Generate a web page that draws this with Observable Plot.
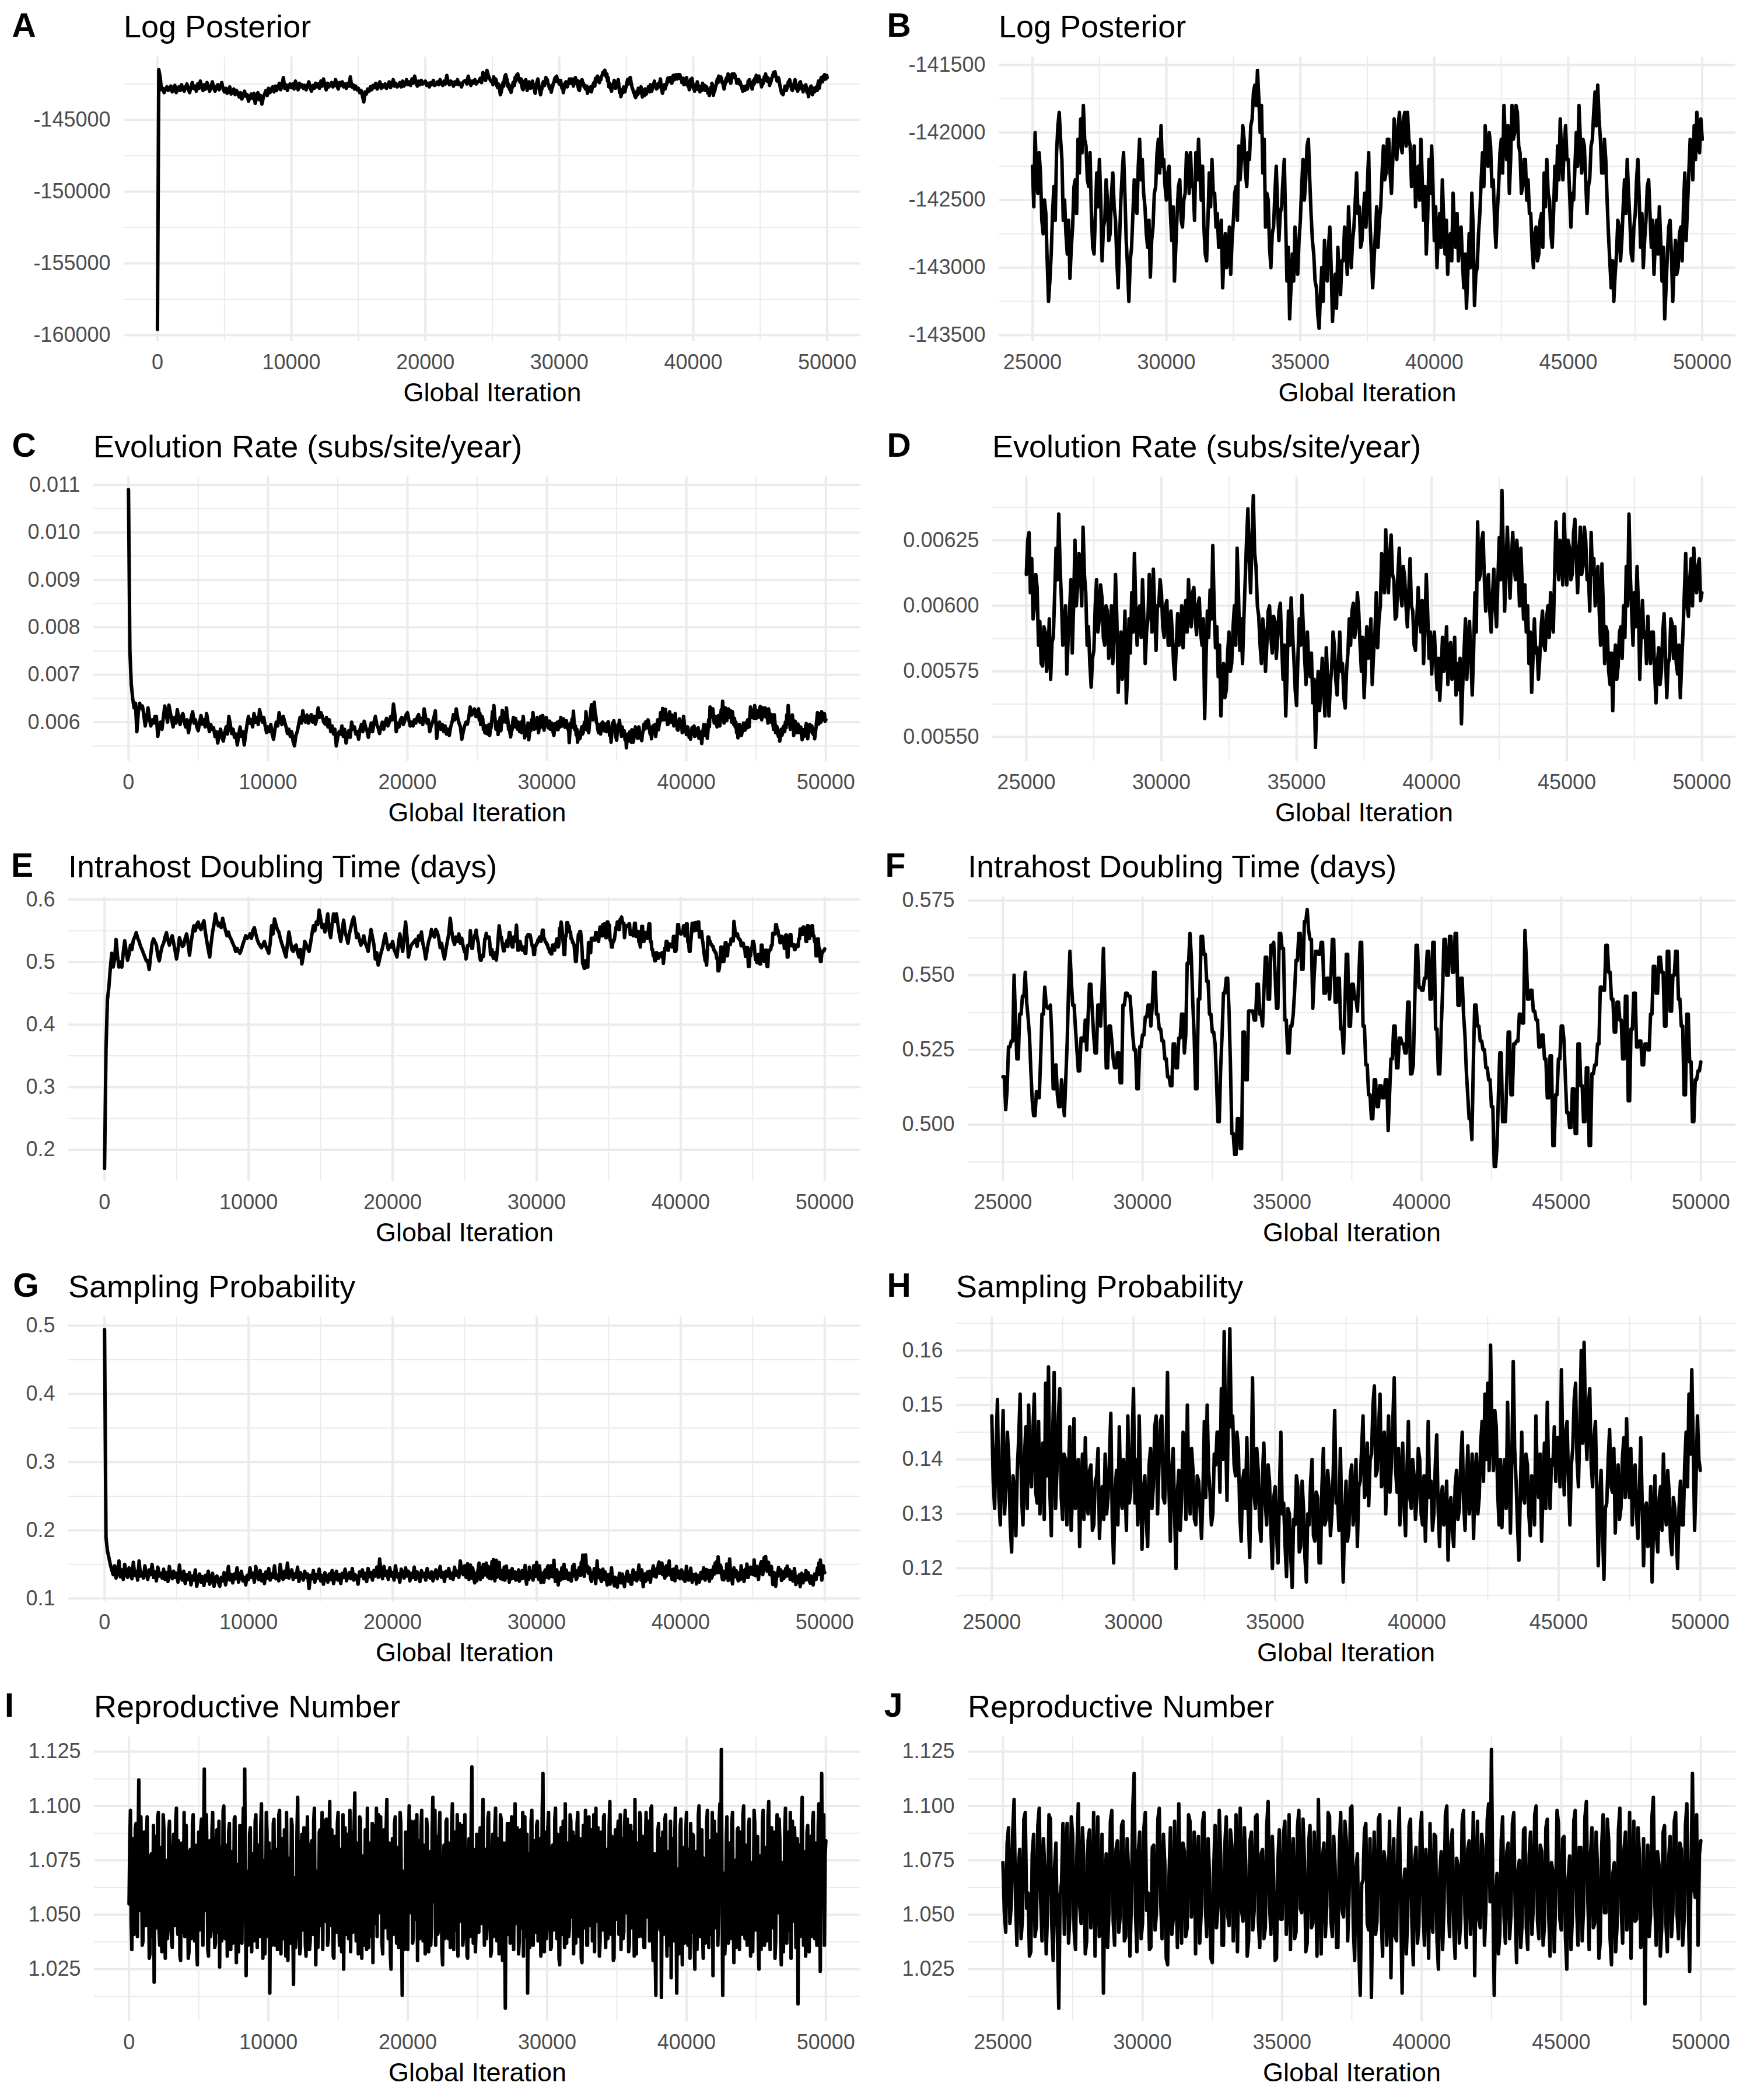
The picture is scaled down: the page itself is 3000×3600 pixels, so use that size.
<!DOCTYPE html>
<html>
<head>
<meta charset="utf-8">
<script src="https://cdn.jsdelivr.net/npm/d3@7"></script>
<script src="https://cdn.jsdelivr.net/npm/@observablehq/plot@0.6"></script>
<style>
  html, body { margin: 0; padding: 0; background: #ffffff; }
  #grid { display: grid; grid-template-columns: 1500px 1500px; width: 3000px; }
  .cell { position: relative; width: 1500px; height: 720px; overflow: hidden; }
  .head { position: relative; height: 80px; }
  .tag { position: absolute; left: 0; top: 15px; font-family: "Liberation Sans", Arial, Helvetica, sans-serif; font-weight: bold; font-size: 57px; line-height: 57px; color: #000; transform: translateX(50%); white-space: nowrap; }
  .title { position: absolute; top: 18px; font-family: "Liberation Sans", Arial, Helvetica, sans-serif; font-size: 54px; line-height: 54px; color: #000; white-space: nowrap; }
  .cell svg { display: block; }
</style>
</head>
<body>
<div id="grid"></div>
<script>
// ---------------- DATA ----------------
// Thinned MCMC traces.
// Most traces: every 100 global iterations up to 24900, then every 50 (25000 ... 50000).
const iterationMixed = d3.range(0, 25000, 100).concat(d3.range(25000, 50001, 50));
// Reproductive number: every 50 global iterations (0 ... 50000).
const iterationFine = d3.range(0, 50001, 50);

const logPosterior = [
-159600,-141500,-142000,-142900,-142800,-143100,-142850,-142700,-142950,-142750,
-142650,-143050,-142800,-142600,-143100,-142900,-142700,-142950,-142550,-142850,
-143000,-142700,-142500,-142850,-143100,-142750,-142400,-142800,-142650,-143000,
-142500,-142800,-142300,-142650,-142950,-142550,-142850,-142400,-142700,-143000,
-142650,-142350,-142800,-143000,-142700,-142550,-142900,-142650,-142400,-142850,
-143050,-142800,-143150,-142900,-142700,-143200,-143000,-142850,-143250,-142950,
-143150,-143400,-143100,-143550,-143300,-143000,-143350,-143250,-143700,-143400,
-143200,-143500,-143150,-143850,-143400,-143100,-143600,-143300,-143900,-143450,
-143200,-142950,-143300,-142800,-143100,-142850,-142700,-143050,-142650,-142950,
-142700,-142450,-142900,-142600,-142050,-142800,-142550,-142950,-142650,-142500,
-142750,-142500,-142850,-142300,-142600,-142900,-142450,-142700,-142550,-142800,
-142600,-142900,-142650,-142350,-142750,-143000,-142600,-142800,-142450,-142700,
-142500,-142800,-142300,-142650,-142150,-142600,-142900,-142450,-142700,-142550,
-142400,-142700,-142500,-142200,-142650,-142850,-142400,-142600,-142350,-142700,
-142500,-142800,-142450,-142650,-142000,-142700,-142550,-142850,-142650,-142900,
-142800,-143100,-142950,-143300,-143750,-143050,-143200,-142850,-143000,-142700,
-142900,-142600,-142750,-142450,-142850,-142600,-142350,-142800,-142550,-142700,
-142500,-142800,-142600,-142350,-142750,-142550,-142200,-142650,-142450,-142700,
-142600,-142400,-142700,-142300,-142650,-142500,-142200,-142550,-142350,-142600,
-142150,-142450,-141950,-142400,-142650,-142300,-142550,-142250,-142500,-142400,
-142300,-142600,-142450,-142700,-142400,-142550,-142250,-142600,-142500,-142350,
-142550,-142200,-142450,-142600,-142300,-142500,-141900,-142350,-142550,-142300,
-142400,-142650,-142350,-142500,-142200,-142550,-142450,-142700,-142400,-142300,
-142250,-142500,-141950,-142400,-142600,-142300,-142450,-142200,-142500,-142350,
-142300,-142100,-142400,-141700,-142000,-142250,-141550,-141900,-142150,-142300,
-142250,-142550,-142000,-142300,-142450,-142150,-142300,-142650,-142750,-142500,-142600,-142950,-143250,-143100,-142900,-142600,-142400,-142650,-142150,-141950,
-141850,-142050,-142200,-142650,-142500,-142750,-142900,-142650,-143080,-142850,-142700,-142400,-142350,-142600,-142050,-142300,-141900,-142150,-141800,-142050,
-142100,-142350,-142400,-142150,-142600,-142850,-142900,-142600,-142300,-142550,-142200,-142500,-142950,-142700,-142650,-142350,-142500,-142800,-142750,-142450,
-142300,-142550,-142650,-142950,-143150,-142800,-142500,-142300,-142150,-142450,-142800,-143000,-143250,-142950,-142850,-142600,-142350,-142550,-142600,-142250,
-142050,-142350,-142200,-142450,-142550,-142750,-142850,-142650,-143070,-142800,-142700,-142450,-142400,-142150,-142050,-142300,-141950,-142250,-142200,-142400,
-142500,-142300,-142250,-142600,-142800,-142550,-143100,-142850,-142600,-142400,-142350,-142650,-142700,-142500,-142450,-142150,-142200,-142450,-142150,-142400,
-142400,-142650,-142150,-142350,-142050,-142300,-142500,-142250,-142700,-142900,-142950,-142650,-142300,-142550,-142200,-142450,-142450,-142700,-142600,-142850,
-142850,-142650,-143150,-142900,-142750,-143000,-142950,-142700,-143050,-142800,-142650,-142450,-142400,-142650,-142100,-142350,-142200,-141950,-142050,-142300,
-142400,-142150,-142200,-141950,-141900,-141700,-141650,-141800,-141540,-141750,-142000,-141800,-142300,-142050,-142700,-142450,-142500,-142850,-143000,-142750,
-142700,-142450,-142250,-142550,-142800,-142600,-142550,-142350,-142200,-142650,-143100,-142850,-143380,-143150,-142900,-143100,-142700,-142950,-143050,-142800,
-142650,-142400,-142200,-142500,-142350,-142100,-142050,-142350,-142600,-142800,-142900,-143100,-143150,-143350,-143450,-143200,-143000,-143250,-142800,-143050,
-143100,-142850,-142700,-143000,-143400,-143150,-143050,-143300,-142850,-143050,-143200,-142950,-142950,-142700,-142800,-143050,-142550,-142800,-143000,-142800,
-142700,-142500,-142300,-142600,-142550,-142850,-142800,-142600,-142450,-142700,-142400,-142150,-142650,-142900,-143150,-142950,-142750,-142550,-142850,-142650,
-142550,-142300,-142100,-142350,-142300,-142050,-142050,-142300,-142450,-142200,-141900,-142150,-142200,-141950,-141850,-142100,-142150,-141900,-141850,-142100,
-141850,-142050,-142100,-142400,-142350,-142100,-142550,-142300,-142250,-142500,-142050,-142350,-142650,-142400,-142900,-142650,-142200,-142450,-142100,-142400,
-142800,-142550,-143000,-142750,-142600,-142850,-142350,-142650,-142900,-142650,-143050,-142800,-142750,-142950,-142450,-142700,-142850,-142600,-142950,-142750,
-142700,-142950,-143150,-142900,-143300,-143050,-142750,-143000,-142450,-142700,-143280,-143050,-143000,-142750,-142600,-142350,-142150,-142400,-141950,-142200,
-142250,-142000,-142100,-142400,-142350,-142650,-142850,-142600,-142400,-142150,-142050,-142300,-141800,-142050,-142200,-141950,-142450,-142200,-141800,-142050,
-142000,-141800,-141850,-142100,-142150,-142450,-142400,-142200,-142200,-142500,-142350,-142600,-142600,-142850,-143000,-142750,-142700,-142950,-142900,-142650,
-142600,-142850,-142300,-142550,-142200,-142450,-142500,-142750,-142850,-142600,-142250,-142500,-142100,-142350,-141900,-142150,-142350,-142100,-141950,-142200,
-142200,-142450,-142700,-142450,-142500,-142250,-142000,-142250,-141800,-142050,-142300,-142050,-142100,-142350,-142600,-142400,-142350,-142100,-142050,-141850,
-141700,-141950,-141650,-141900,-142050,-142300,-142300,-142050,-142200,-142500,-142750,-142950,-143150,-142950,-143250,-143050,-142900,-142650,-142700,-142950,
-142800,-142550,-142350,-142600,-142200,-142450,-142650,-142900,-142950,-142700,-142600,-142350,-142200,-142500,-142850,-142600,-143000,-142800,-142650,-142400,
-142350,-142600,-142850,-142650,-143050,-142800,-142650,-142900,-142550,-142800,-143100,-142850,-143380,-143150,-142900,-142700,-142650,-142900,-143250,-143000,
-142800,-143050,-143000,-142750,-142700,-142950,-142550,-142300,-142800,-142550,-142300,-142050,-142100,-142350,-141950,-142200,-141850,-142100,-142150,-141900,
-142050
];

const evolutionRate = [
0.0109,0.0075,0.0068,0.0065,0.0063,0.0064,0.0058,0.0062,0.0064,0.0063,
0.00634,0.00615,0.00592,0.00610,0.00630,0.00608,0.00592,0.00605,0.00598,0.00612,
0.00612,0.00570,0.00590,0.00600,0.00585,0.00610,0.00634,0.00618,0.00600,0.00636,
0.00620,0.00605,0.00590,0.00610,0.00598,0.00626,0.00608,0.00595,0.00612,0.00618,
0.00600,0.00590,0.00605,0.00578,0.00595,0.00610,0.00622,0.00598,0.00605,0.00590,
0.00582,0.00600,0.00614,0.00596,0.00605,0.00590,0.00618,0.00600,0.00580,0.00595,
0.00585,0.00588,0.00570,0.00580,0.00556,0.00575,0.00585,0.00568,0.00560,0.00578,
0.00590,0.00575,0.00612,0.00595,0.00576,0.00585,0.00568,0.00575,0.00552,0.00572,
0.00590,0.00570,0.00580,0.00552,0.00575,0.00595,0.00612,0.00598,0.00605,0.00590,
0.00618,0.00600,0.00610,0.00595,0.00626,0.00612,0.00600,0.00610,0.00592,0.00578,
0.00590,0.00580,0.00595,0.00575,0.00564,0.00585,0.00600,0.00592,0.00620,0.00605,
0.00595,0.00612,0.00600,0.00590,0.00576,0.00585,0.00570,0.00580,0.00560,0.00550,
0.00572,0.00580,0.00595,0.00610,0.00598,0.00624,0.00605,0.00600,0.00615,0.00598,
0.00605,0.00616,0.00600,0.00612,0.00596,0.00608,0.00630,0.00610,0.00620,0.00612,
0.00600,0.00596,0.00610,0.00590,0.00605,0.00580,0.00592,0.00575,0.00585,0.00550,
0.00568,0.00580,0.00575,0.00592,0.00570,0.00585,0.00556,0.00572,0.00582,0.00568,
0.00600,0.00585,0.00590,0.00575,0.00580,0.00564,0.00585,0.00595,0.00580,0.00602,
0.00590,0.00582,0.00568,0.00585,0.00598,0.00580,0.00600,0.00612,0.00595,0.00588,
0.00576,0.00590,0.00600,0.00585,0.00598,0.00608,0.00592,0.00600,0.00612,0.00605,
0.00638,0.00615,0.00580,0.00598,0.00590,0.00605,0.00610,0.00595,0.00602,0.00615,
0.00620,0.00605,0.00592,0.00600,0.00592,0.00605,0.00598,0.00610,0.00616,0.00600,
0.00608,0.00595,0.00628,0.00610,0.00598,0.00605,0.00580,0.00592,0.00600,0.00610,
0.00624,0.00566,0.00590,0.00600,0.00585,0.00595,0.00580,0.00592,0.00575,0.00585,
0.00572,0.00590,0.00600,0.00616,0.00605,0.00628,0.00610,0.00598,0.00590,0.00564,
0.00580,0.00592,0.00600,0.00596,0.00610,0.00632,0.00615,0.00620,0.00628,0.00612,
0.00612,0.00625,0.00628,0.00605,0.00618,0.00595,0.00600,0.00612,0.00607,0.00585,0.00594,0.00578,0.00577,0.00592,0.00590,0.00575,0.00580,0.00595,0.00572,0.00586,
0.00588,0.00605,0.00622,0.00610,0.00635,0.00615,0.00602,0.00585,0.00590,0.00600,0.00574,0.00588,0.00598,0.00610,0.00582,0.00600,0.00625,0.00600,0.00608,0.00620,
0.00615,0.00600,0.00630,0.00612,0.00605,0.00585,0.00592,0.00578,0.00569,0.00580,0.00583,0.00600,0.00610,0.00590,0.00595,0.00608,0.00603,0.00588,0.00585,0.00600,
0.00598,0.00580,0.00585,0.00600,0.00578,0.00590,0.00612,0.00595,0.00567,0.00582,0.00590,0.00572,0.00580,0.00598,0.00563,0.00575,0.00595,0.00582,0.00605,0.00590,
0.00620,0.00600,0.00585,0.00598,0.00600,0.00588,0.00610,0.00595,0.00578,0.00590,0.00595,0.00612,0.00603,0.00590,0.00614,0.00598,0.00583,0.00600,0.00600,0.00610,
0.00605,0.00592,0.00588,0.00600,0.00602,0.00585,0.00585,0.00598,0.00590,0.00578,0.00572,0.00585,0.00597,0.00585,0.00590,0.00600,0.00584,0.00595,0.00602,0.00590,
0.00610,0.00598,0.00592,0.00605,0.00607,0.00595,0.00589,0.00600,0.00603,0.00590,0.00585,0.00595,0.00557,0.00580,0.00598,0.00588,0.00606,0.00595,0.00623,0.00600,
0.00584,0.00592,0.00573,0.00585,0.00558,0.00570,0.00578,0.00565,0.00568,0.00582,0.00590,0.00575,0.00578,0.00592,0.00600,0.00585,0.00622,0.00605,0.00583,0.00595,
0.00578,0.00595,0.00610,0.00625,0.00637,0.00618,0.00605,0.00625,0.00642,0.00620,0.00615,0.00600,0.00596,0.00585,0.00578,0.00595,0.00590,0.00575,0.00585,0.00598,
0.00600,0.00588,0.00582,0.00596,0.00594,0.00580,0.00588,0.00598,0.00601,0.00585,0.00572,0.00585,0.00558,0.00575,0.00598,0.00585,0.00603,0.00590,0.00580,0.00568,
0.00562,0.00580,0.00595,0.00585,0.00604,0.00592,0.00580,0.00570,0.00590,0.00578,0.00573,0.00582,0.00563,0.00572,0.00546,0.00565,0.00575,0.00560,0.00568,0.00580,
0.00570,0.00558,0.00584,0.00572,0.00558,0.00570,0.00576,0.00590,0.00585,0.00572,0.00566,0.00578,0.00590,0.00575,0.00578,0.00565,0.00561,0.00575,0.00582,0.00595,
0.00585,0.00598,0.00601,0.00588,0.00592,0.00605,0.00598,0.00585,0.00575,0.00588,0.00565,0.00578,0.00592,0.00580,0.00582,0.00595,0.00570,0.00582,0.00590,0.00605,
0.00584,0.00595,0.00600,0.00620,0.00615,0.00605,0.00629,0.00612,0.00605,0.00620,0.00627,0.00612,0.00610,0.00595,0.00596,0.00612,0.00622,0.00605,0.00600,0.00615,
0.00611,0.00600,0.00592,0.00605,0.00618,0.00600,0.00598,0.00585,0.00583,0.00595,0.00607,0.00595,0.00590,0.00602,0.00578,0.00592,0.00612,0.00598,0.00580,0.00590,
0.00574,0.00585,0.00590,0.00578,0.00568,0.00580,0.00564,0.00575,0.00588,0.00575,0.00580,0.00592,0.00570,0.00582,0.00586,0.00572,0.00575,0.00588,0.00566,0.00578,
0.00568,0.00580,0.00555,0.00570,0.00583,0.00595,0.00572,0.00585,0.00594,0.00580,0.00566,0.00582,0.00605,0.00590,0.00632,0.00610,0.00612,0.00625,0.00628,0.00610,
0.00598,0.00608,0.00612,0.00598,0.00590,0.00604,0.00614,0.00600,0.00592,0.00610,0.00626,0.00610,0.00644,0.00620,0.00598,0.00615,0.00630,0.00615,0.00603,0.00618,
0.00628,0.00615,0.00610,0.00625,0.00615,0.00600,0.00622,0.00608,0.00595,0.00608,0.00590,0.00600,0.00578,0.00590,0.00567,0.00580,0.00595,0.00582,0.00584,0.00572,
0.00580,0.00592,0.00598,0.00585,0.00583,0.00595,0.00600,0.00588,0.00605,0.00595,0.00590,0.00612,0.00632,0.00618,0.00610,0.00625,0.00622,0.00608,0.00635,0.00620,
0.00608,0.00625,0.00622,0.00610,0.00612,0.00628,0.00633,0.00618,0.00605,0.00620,0.00630,0.00612,0.00615,0.00630,0.00625,0.00610,0.00612,0.00598,0.00628,0.00612,
0.00618,0.00600,0.00605,0.00615,0.00598,0.00585,0.00616,0.00600,0.00578,0.00592,0.00590,0.00575,0.00570,0.00582,0.00560,0.00578,0.00585,0.00572,0.00577,0.00590,
0.00592,0.00580,0.00600,0.00588,0.00615,0.00600,0.00635,0.00612,0.00598,0.00585,0.00605,0.00592,0.00615,0.00600,0.00572,0.00590,0.00602,0.00588,0.00590,0.00578,
0.00596,0.00585,0.00578,0.00590,0.00590,0.00575,0.00563,0.00578,0.00584,0.00570,0.00575,0.00590,0.00597,0.00582,0.00565,0.00578,0.00580,0.00595,0.00593,0.00580,
0.00592,0.00578,0.00574,0.00585,0.00565,0.00578,0.00590,0.00605,0.00620,0.00600,0.00596,0.00610,0.00618,0.00600,0.00622,0.00608,0.00605,0.00615,0.00618,0.00602,
0.00605
];

const doublingTime = [
0.170,0.360,0.440,0.460,0.490,0.514,0.492,0.505,0.536,0.510,
0.492,0.500,0.492,0.515,0.534,0.517,0.503,0.512,0.527,0.520,
0.535,0.540,0.547,0.538,0.533,0.525,0.520,0.514,0.508,0.502,
0.502,0.488,0.510,0.530,0.537,0.532,0.527,0.510,0.502,0.515,
0.525,0.530,0.540,0.547,0.535,0.527,0.536,0.542,0.530,0.518,
0.505,0.520,0.539,0.532,0.525,0.527,0.538,0.545,0.530,0.511,
0.530,0.545,0.558,0.550,0.560,0.564,0.555,0.552,0.560,0.566,
0.548,0.533,0.520,0.508,0.530,0.548,0.560,0.577,0.565,0.558,
0.562,0.555,0.570,0.560,0.550,0.542,0.548,0.540,0.536,0.530,
0.525,0.517,0.522,0.518,0.514,0.520,0.528,0.535,0.542,0.538,
0.540,0.545,0.538,0.550,0.555,0.545,0.536,0.530,0.526,0.523,
0.528,0.533,0.525,0.520,0.514,0.530,0.558,0.545,0.569,0.560,
0.552,0.548,0.538,0.530,0.523,0.515,0.508,0.530,0.548,0.535,
0.520,0.517,0.525,0.527,0.515,0.508,0.520,0.497,0.510,0.533,
0.528,0.522,0.517,0.530,0.545,0.558,0.550,0.564,0.560,0.583,
0.570,0.555,0.560,0.548,0.562,0.577,0.550,0.539,0.560,0.577,
0.565,0.577,0.560,0.545,0.533,0.550,0.567,0.548,0.540,0.530,
0.545,0.555,0.565,0.572,0.558,0.539,0.545,0.535,0.527,0.533,
0.542,0.530,0.525,0.517,0.535,0.552,0.540,0.528,0.505,0.515,
0.495,0.505,0.515,0.523,0.535,0.545,0.530,0.520,0.527,0.524,
0.533,0.520,0.515,0.508,0.528,0.545,0.530,0.517,0.540,0.564,
0.540,0.508,0.520,0.527,0.530,0.533,0.536,0.525,0.542,0.535,
0.548,0.530,0.520,0.505,0.520,0.533,0.540,0.552,0.545,0.540,
0.552,0.548,0.539,0.523,0.530,0.515,0.505,0.520,0.533,0.545,
0.570,0.550,0.535,0.528,0.540,0.533,0.545,0.530,0.538,0.525,
0.516,0.516,0.505,0.512,0.526,0.526,0.528,0.528,0.550,0.535,0.522,0.522,0.537,0.537,0.543,0.543,0.551,0.541,0.536,0.530,
0.518,0.508,0.503,0.503,0.511,0.511,0.509,0.522,0.537,0.537,0.546,0.540,0.539,0.539,0.540,0.530,0.512,0.512,0.520,0.510,
0.506,0.506,0.515,0.509,0.503,0.515,0.527,0.545,0.558,0.548,0.540,0.540,0.532,0.525,0.518,0.518,0.529,0.529,0.528,0.535,
0.525,0.536,0.547,0.547,0.538,0.530,0.524,0.524,0.540,0.540,0.533,0.545,0.559,0.540,0.519,0.519,0.533,0.533,0.528,0.522,
0.519,0.519,0.524,0.524,0.514,0.514,0.540,0.540,0.544,0.544,0.543,0.543,0.537,0.530,0.525,0.525,0.512,0.512,0.526,0.526,
0.530,0.530,0.536,0.536,0.540,0.540,0.533,0.540,0.551,0.551,0.537,0.537,0.532,0.532,0.528,0.528,0.522,0.522,0.516,0.516,
0.513,0.513,0.527,0.527,0.519,0.519,0.529,0.529,0.537,0.537,0.524,0.530,0.554,0.554,0.564,0.556,0.541,0.530,0.512,0.512,
0.542,0.542,0.563,0.563,0.557,0.557,0.548,0.548,0.537,0.537,0.531,0.531,0.527,0.515,0.501,0.501,0.519,0.530,0.544,0.544,
0.549,0.549,0.538,0.520,0.497,0.497,0.490,0.490,0.502,0.502,0.492,0.492,0.531,0.531,0.515,0.515,0.538,0.538,0.538,0.538,
0.535,0.535,0.547,0.547,0.537,0.537,0.533,0.545,0.556,0.556,0.542,0.542,0.560,0.560,0.561,0.550,0.539,0.539,0.564,0.564,
0.559,0.559,0.535,0.535,0.524,0.524,0.533,0.533,0.537,0.545,0.555,0.555,0.564,0.564,0.552,0.552,0.568,0.568,0.572,0.565,
0.562,0.562,0.539,0.550,0.558,0.558,0.557,0.557,0.561,0.561,0.544,0.544,0.549,0.549,0.542,0.550,0.562,0.562,0.541,0.541,
0.549,0.549,0.532,0.532,0.524,0.540,0.557,0.557,0.533,0.533,0.547,0.547,0.542,0.542,0.538,0.550,0.561,0.561,0.533,0.533,
0.520,0.520,0.510,0.510,0.502,0.502,0.515,0.515,0.506,0.506,0.513,0.513,0.509,0.509,0.515,0.515,0.498,0.510,0.522,0.522,
0.533,0.533,0.519,0.519,0.529,0.529,0.527,0.527,0.524,0.524,0.541,0.541,0.517,0.517,0.520,0.540,0.560,0.560,0.546,0.546,
0.545,0.545,0.549,0.549,0.558,0.558,0.542,0.542,0.561,0.561,0.532,0.532,0.517,0.517,0.532,0.545,0.562,0.562,0.550,0.550,
0.563,0.563,0.551,0.551,0.564,0.564,0.540,0.540,0.549,0.549,0.537,0.530,0.518,0.510,0.502,0.502,0.495,0.520,0.540,0.540,
0.533,0.533,0.528,0.528,0.525,0.525,0.519,0.519,0.515,0.515,0.506,0.506,0.486,0.486,0.493,0.510,0.524,0.524,0.501,0.501,
0.501,0.515,0.531,0.531,0.510,0.510,0.527,0.527,0.528,0.528,0.537,0.537,0.534,0.534,0.565,0.555,0.542,0.542,0.545,0.545,
0.538,0.538,0.535,0.535,0.526,0.526,0.530,0.530,0.522,0.522,0.509,0.509,0.523,0.523,0.493,0.493,0.510,0.510,0.522,0.522,
0.533,0.533,0.528,0.515,0.504,0.504,0.499,0.499,0.512,0.512,0.497,0.497,0.527,0.527,0.513,0.513,0.501,0.501,0.519,0.519,
0.493,0.493,0.517,0.517,0.520,0.520,0.527,0.527,0.546,0.546,0.545,0.545,0.560,0.560,0.551,0.551,0.542,0.542,0.531,0.531,
0.541,0.541,0.535,0.535,0.522,0.522,0.543,0.543,0.508,0.508,0.532,0.532,0.544,0.544,0.526,0.526,0.528,0.528,0.520,0.520,
0.527,0.527,0.525,0.525,0.537,0.537,0.553,0.553,0.544,0.544,0.556,0.556,0.551,0.551,0.533,0.533,0.558,0.558,0.538,0.538,
0.550,0.550,0.558,0.558,0.542,0.542,0.533,0.533,0.510,0.510,0.537,0.537,0.521,0.521,0.501,0.501,0.515,0.515,0.518,0.518,
0.521
];

const samplingProb = [
0.494,0.190,0.170,0.160,0.150,0.142,0.135,0.148,0.130,0.138,
0.155,0.132,0.142,0.128,0.150,0.136,0.131,0.145,0.135,0.129,
0.153,0.134,0.140,0.127,0.155,0.133,0.138,0.130,0.148,0.136,
0.128,0.142,0.135,0.150,0.131,0.139,0.126,0.146,0.133,0.137,
0.130,0.143,0.128,0.138,0.125,0.147,0.134,0.129,0.140,0.131,
0.137,0.124,0.149,0.131,0.127,0.140,0.122,0.135,0.128,0.138,
0.120,0.133,0.127,0.142,0.118,0.130,0.136,0.124,0.132,0.119,
0.134,0.126,0.140,0.121,0.130,0.137,0.118,0.128,0.133,0.124,
0.118,0.131,0.126,0.138,0.120,0.132,0.147,0.127,0.135,0.123,
0.136,0.129,0.145,0.124,0.133,0.140,0.126,0.131,0.120,0.134,
0.128,0.145,0.131,0.137,0.124,0.147,0.133,0.128,0.141,0.126,
0.135,0.122,0.139,0.130,0.144,0.127,0.136,0.131,0.148,0.129,
0.134,0.126,0.150,0.133,0.128,0.140,0.131,0.152,0.130,0.137,
0.142,0.128,0.136,0.131,0.146,0.125,0.138,0.133,0.127,0.140,
0.131,0.136,0.1146,0.134,0.129,0.141,0.124,0.135,0.130,0.143,
0.126,0.134,0.121,0.138,0.130,0.124,0.136,0.128,0.141,0.122,
0.133,0.140,0.127,0.135,0.122,0.137,0.131,0.143,0.126,0.134,
0.138,0.129,0.144,0.127,0.135,0.131,0.121,0.139,0.133,0.142,
0.129,0.137,0.125,0.144,0.132,0.138,0.127,0.141,0.133,0.146,
0.131,0.158,0.136,0.129,0.147,0.134,0.140,0.128,0.145,0.133,
0.138,0.127,0.148,0.132,0.136,0.124,0.143,0.135,0.130,0.145,
0.133,0.140,0.126,0.137,0.131,0.146,0.128,0.139,0.134,0.125,
0.141,0.132,0.137,0.127,0.144,0.134,0.130,0.139,0.126,0.135,
0.142,0.129,0.136,0.147,0.131,0.138,0.125,0.140,0.133,0.144,
0.130,0.137,0.128,0.146,0.134,0.140,0.131,0.155,0.139,0.135,
0.148,0.136,0.131,0.142,0.151,0.133,0.128,0.139,0.149,0.130,0.135,0.145,0.140,0.128,0.123,0.137,0.134,0.126,0.138,0.144,
0.152,0.133,0.128,0.140,0.146,0.131,0.150,0.138,0.135,0.145,0.152,0.134,0.132,0.147,0.130,0.138,0.143,0.129,0.154,0.137,
0.157,0.134,0.126,0.145,0.156,0.131,0.138,0.148,0.153,0.133,0.129,0.141,0.140,0.128,0.136,0.146,0.127,0.134,0.1475,0.131,
0.133,0.140,0.124,0.135,0.141,0.129,0.144,0.132,0.130,0.138,0.139,0.127,0.128,0.136,0.137,0.142,0.1255,0.133,0.135,0.129,
0.141,0.130,0.133,0.140,0.1485,0.129,0.121,0.134,0.138,0.128,0.146,0.133,0.131,0.140,0.136,0.127,0.148,0.132,0.134,0.143,
0.153,0.132,0.140,0.128,0.148,0.136,0.1235,0.134,0.137,0.129,0.124,0.139,0.142,0.131,0.135,0.146,0.148,0.130,0.139,0.147,
0.148,0.133,0.132,0.141,0.156,0.135,0.125,0.138,0.142,0.130,0.120,0.134,0.138,0.127,0.133,0.145,0.144,0.129,0.150,0.135,
0.130,0.142,0.138,0.129,0.128,0.137,0.136,0.131,0.1255,0.134,0.147,0.133,0.150,0.138,0.134,0.128,0.130,0.141,0.139,0.145,
0.145,0.134,0.153,0.140,0.1635,0.145,0.1325,0.150,0.164,0.146,0.148,0.139,0.137,0.145,0.142,0.130,0.125,0.136,0.138,0.131,
0.144,0.130,0.122,0.136,0.155,0.134,0.131,0.142,0.138,0.128,0.125,0.137,0.143,0.132,0.128,0.139,0.136,0.127,0.120,0.133,
0.135,0.126,0.121,0.134,0.145,0.130,0.132,0.124,0.1185,0.131,0.130,0.122,0.1165,0.129,0.128,0.137,0.135,0.123,0.124,0.136,
0.131,0.122,0.1175,0.130,0.128,0.136,0.140,0.126,0.125,0.134,0.133,0.121,0.121,0.135,0.142,0.128,0.129,0.138,0.135,0.126,
0.130,0.138,0.149,0.132,0.133,0.127,0.142,0.130,0.1175,0.129,0.136,0.125,0.127,0.137,0.139,0.128,0.131,0.140,0.124,0.135,
0.136,0.142,0.148,0.133,0.134,0.143,0.1315,0.140,0.141,0.150,0.1535,0.137,0.138,0.146,0.152,0.135,0.136,0.145,0.130,0.139,
0.148,0.134,0.139,0.147,0.155,0.138,0.134,0.142,0.128,0.137,0.143,0.131,0.126,0.138,0.147,0.133,0.131,0.140,0.137,0.129,
0.133,0.142,0.140,0.130,0.128,0.137,0.125,0.134,0.147,0.133,0.136,0.127,0.130,0.139,0.1445,0.131,0.124,0.133,0.135,0.128,
0.129,0.136,0.1215,0.131,0.133,0.127,0.124,0.135,0.138,0.129,0.131,0.140,0.145,0.132,0.127,0.136,0.1425,0.130,0.134,0.141,
0.1255,0.137,0.141,0.130,0.133,0.143,0.147,0.136,0.152,0.140,0.154,0.138,0.161,0.145,0.138,0.149,0.146,0.134,0.128,0.140,
0.1275,0.137,0.140,0.131,0.1505,0.138,0.1265,0.140,0.158,0.142,0.136,0.128,0.1215,0.134,0.145,0.133,0.132,0.141,0.139,0.130,
0.126,0.137,0.135,0.128,0.148,0.136,0.133,0.141,0.125,0.134,0.143,0.131,0.1505,0.137,0.131,0.140,0.139,0.146,0.136,0.144,
0.144,0.135,0.1565,0.141,0.1335,0.145,0.147,0.136,0.128,0.139,0.142,0.151,0.154,0.140,0.135,0.146,0.160,0.143,0.1615,0.147,
0.140,0.150,0.153,0.139,0.135,0.144,0.147,0.134,0.1205,0.133,0.138,0.127,0.118,0.131,0.132,0.140,0.1455,0.135,0.134,0.142,
0.1265,0.135,0.139,0.129,0.131,0.140,0.144,0.133,0.1475,0.136,0.133,0.142,0.128,0.137,0.139,0.130,0.1255,0.134,0.144,0.132,
0.1205,0.131,0.132,0.124,0.126,0.135,0.1175,0.128,0.137,0.126,0.123,0.133,0.135,0.127,0.141,0.131,0.128,0.138,0.134,0.125,
0.1225,0.133,0.131,0.126,0.120,0.131,0.136,0.128,0.128,0.139,0.145,0.135,0.152,0.141,0.1565,0.143,0.127,0.136,0.148,0.140,
0.138
];

const reproNumber = [
1.055,1.083,1.098,1.047,1.034,1.072,1.085,1.041,1.048,1.090,1.092,1.053,1.040,1.081,1.112,1.060,1.052,1.095,1.070,1.036,
1.038,1.079,1.088,1.050,1.045,1.086,1.095,1.049,1.060,1.030,1.032,1.077,1.078,1.040,1.042,1.091,1.019,1.065,1.086,1.044,
1.050,1.094,1.097,1.043,1.036,1.081,1.074,1.033,1.058,1.096,1.090,1.046,1.030,1.075,1.068,1.039,1.044,1.088,1.093,1.051,
1.062,1.037,1.035,1.080,1.087,1.045,1.048,1.093,1.099,1.052,1.041,1.084,1.072,1.031,1.029,1.076,1.083,1.042,1.055,1.097,
1.040,1.085,1.091,1.048,1.057,1.030,1.033,1.079,1.080,1.039,1.046,1.092,1.096,1.054,1.038,1.082,1.065,1.035,1.027,1.071,
1.088,1.043,1.049,1.090,1.094,1.051,1.036,1.083,1.117,1.058,1.052,1.096,1.075,1.034,1.031,1.078,1.084,1.040,1.044,1.089,
1.097,1.052,1.060,1.035,1.037,1.084,1.089,1.042,1.047,1.093,1.026,1.066,1.081,1.038,1.054,1.098,1.100,1.046,1.039,1.082,
1.067,1.031,1.043,1.088,1.092,1.050,1.034,1.079,1.077,1.037,1.051,1.094,1.095,1.048,1.028,1.073,1.069,1.033,1.046,1.091,
1.086,1.041,1.037,1.082,1.099,1.055,1.117,1.060,1.022,1.070,1.063,1.036,1.041,1.087,1.090,1.045,1.033,1.078,1.074,1.038,
1.050,1.093,1.096,1.049,1.035,1.079,1.082,1.040,1.045,1.090,1.101,1.054,1.030,1.075,1.066,1.032,1.053,1.097,1.088,1.043,
1.040,1.083,1.014,1.058,1.079,1.036,1.047,1.092,1.094,1.051,1.036,1.080,1.071,1.034,1.058,1.096,1.098,1.049,1.032,1.076,
1.085,1.039,1.044,1.089,1.062,1.031,1.097,1.053,1.029,1.072,1.076,1.037,1.050,1.094,1.091,1.046,1.018,1.063,1.067,1.035,
1.042,1.088,1.104,1.057,1.055,1.032,1.035,1.081,1.087,1.043,1.046,1.090,1.073,1.036,1.031,1.077,1.095,1.050,1.059,1.034,
1.038,1.082,1.084,1.041,1.048,1.093,1.099,1.052,1.027,1.068,1.070,1.035,1.043,1.088,1.089,1.045,1.056,1.097,1.034,1.078,
1.093,1.047,1.051,1.094,1.078,1.036,1.039,1.085,1.102,1.055,1.045,1.089,1.064,1.031,1.030,1.074,1.086,1.042,1.049,1.092,
1.097,1.050,1.036,1.080,1.072,1.033,1.055,1.096,1.025,1.066,1.090,1.044,1.041,1.087,1.081,1.039,1.060,1.098,1.033,1.075,
1.088,1.042,1.047,1.091,1.106,1.055,1.038,1.083,1.069,1.032,1.052,1.095,1.094,1.048,1.030,1.073,1.077,1.036,1.044,1.089,
1.062,1.034,1.099,1.054,1.035,1.080,1.083,1.040,1.048,1.092,1.028,1.069,1.091,1.046,1.057,1.099,1.040,1.084,1.096,1.051,
1.053,1.095,1.074,1.037,1.032,1.079,1.089,1.044,1.046,1.090,1.103,1.056,1.039,1.083,1.066,1.031,1.025,1.070,1.085,1.041,
1.049,1.092,1.095,1.050,1.037,1.081,1.078,1.035,1.058,1.097,1.092,1.047,1.013,1.060,1.070,1.034,1.043,1.088,1.087,1.042,
1.034,1.078,1.100,1.053,1.051,1.093,1.076,1.037,1.040,1.084,1.093,1.048,1.057,1.096,1.029,1.071,1.084,1.039,1.047,1.090,
1.098,1.051,1.038,1.082,1.068,1.032,1.052,1.094,1.090,1.045,1.033,1.077,1.079,1.036,1.045,1.089,1.104,1.058,1.056,1.098,
1.036,1.080,1.086,1.041,1.043,1.087,1.097,1.052,1.061,1.033,1.027,1.072,1.082,1.039,1.050,1.093,1.094,1.046,1.039,1.083,
1.072,1.035,1.046,1.090,1.101,1.055,1.034,1.078,1.088,1.043,1.054,1.096,1.031,1.074,1.092,1.047,1.048,1.091,1.077,1.036,
1.041,1.086,1.096,1.049,1.058,1.031,1.030,1.076,1.085,1.040,1.049,1.094,1.118,1.061,1.037,1.080,1.070,1.033,1.044,1.087,
1.074,1.051,1.042,1.083,1.090,1.046,1.055,1.088,1.103,1.058,1.036,1.071,1.080,1.039,1.048,1.094,1.097,1.053,1.060,1.031,
1.033,1.078,1.087,1.040,1.045,1.091,1.099,1.057,1.038,1.085,1.071,1.032,1.052,1.096,1.094,1.045,1.029,1.072,1.083,1.041,
1.007,1.059,1.065,1.092,1.041,1.080,1.092,1.037,1.050,1.095,1.086,1.043,1.034,1.079,1.101,1.054,1.046,1.090,1.075,1.032,
1.038,1.084,1.089,1.044,1.057,1.097,1.031,1.069,1.095,1.040,1.043,1.087,1.014,1.061,1.078,1.035,1.052,1.093,1.098,1.047,
1.036,1.080,1.084,1.042,1.049,1.091,1.093,1.038,1.040,1.085,1.070,1.031,1.055,1.099,1.115,1.050,1.033,1.079,1.088,1.039,
1.046,1.090,1.097,1.052,1.060,1.034,1.035,1.081,1.082,1.043,1.051,1.094,1.099,1.056,1.039,1.087,1.073,1.030,1.027,1.068,
1.090,1.041,1.048,1.093,1.064,1.035,1.101,1.058,1.037,1.083,1.079,1.040,1.044,1.096,1.093,1.049,1.055,1.088,1.032,1.074,
1.086,1.037,1.050,1.092,1.097,1.054,1.040,1.085,1.068,1.030,1.028,1.071,1.091,1.044,1.053,1.098,1.077,1.036,1.036,1.082,
1.095,1.050,1.045,1.089,1.082,1.038,1.059,1.096,1.033,1.074,1.099,1.052,1.047,1.090,1.072,1.031,1.038,1.084,1.088,1.043,
1.052,1.095,1.096,1.047,1.035,1.078,1.080,1.039,1.044,1.091,1.102,1.055,1.041,1.086,1.066,1.029,1.030,1.075,1.089,1.048,
1.048,1.087,1.093,1.041,1.057,1.096,1.034,1.074,1.085,1.039,1.042,1.090,1.098,1.053,1.051,1.094,1.075,1.033,1.037,1.083,
1.091,1.044,1.046,1.088,1.069,1.031,1.103,1.058,1.032,1.077,1.083,1.040,1.054,1.097,1.095,1.047,1.040,1.086,1.072,1.035,
1.035,1.081,1.097,1.052,1.049,1.093,1.084,1.038,1.058,1.099,1.100,1.045,1.029,1.072,1.078,1.034,1.013,1.064,1.066,1.089,
1.092,1.046,1.043,1.085,1.012,1.060,1.088,1.041,1.047,1.094,1.096,1.050,1.031,1.079,1.074,1.036,1.055,1.093,1.021,1.066,
1.085,1.040,1.038,1.083,1.099,1.054,1.014,1.063,1.071,1.032,1.049,1.091,1.094,1.046,1.027,1.075,1.081,1.037,1.045,1.088,
1.097,1.052,1.036,1.080,1.067,1.030,1.092,1.049,1.042,1.087,1.086,1.038,1.025,1.069,1.079,1.034,1.053,1.096,1.100,1.056,
1.040,1.083,1.089,1.043,1.030,1.076,1.073,1.037,1.047,1.093,1.098,1.051,1.035,1.080,1.084,1.041,1.058,1.097,1.022,1.068,
1.093,1.048,1.044,1.087,1.080,1.036,1.052,1.094,1.101,1.056,1.126,1.060,1.013,1.058,1.069,1.032,1.041,1.084,1.095,1.049,
1.037,1.079,1.083,1.039,1.050,1.092,1.097,1.053,1.028,1.070,1.075,1.035,1.046,1.089,1.090,1.044,1.034,1.077,1.088,1.041,
1.054,1.096,1.100,1.047,1.039,1.082,1.079,1.036,1.045,1.090,1.094,1.050,1.031,1.074,1.070,1.033,1.057,1.098,1.092,1.048,
1.043,1.085,1.086,1.040,1.025,1.067,1.077,1.034,1.049,1.093,1.098,1.054,1.036,1.081,1.081,1.038,1.053,1.095,1.102,1.058,
1.034,1.078,1.090,1.044,1.046,1.088,1.071,1.030,1.038,1.082,1.096,1.051,1.051,1.094,1.084,1.039,1.027,1.069,1.074,1.033,
1.045,1.089,1.099,1.052,1.037,1.080,1.088,1.043,1.055,1.097,1.030,1.066,1.093,1.047,1.048,1.090,1.078,1.035,1.041,1.085,
1.009,1.061,1.082,1.040,1.050,1.095,1.104,1.057,1.036,1.079,1.073,1.031,1.044,1.088,1.091,1.046,1.033,1.076,1.086,1.040,
1.052,1.093,1.097,1.050,1.039,1.083,1.080,1.036,1.047,1.091,1.101,1.055,1.024,1.070,1.115,1.062,1.058,1.096,1.036,1.078,
1.084
];

// Axis ticks (major) and minor grid breaks
const xTicksFull = [0, 10000, 20000, 30000, 40000, 50000];
const xMinorFull = [5000, 15000, 25000, 35000, 45000];
const xTicksHalf = [25000, 30000, 35000, 40000, 45000, 50000];
const xMinorHalf = [27500, 32500, 37500, 42500, 47500];

const yTicksA = [-160000, -155000, -150000, -145000];
const yMinorA = [-157500, -152500, -147500, -142500];
const yTicksB = [-143500, -143000, -142500, -142000, -141500];
const yMinorB = [-143250, -142750, -142250, -141750];
const yTicksC = [0.006, 0.007, 0.008, 0.009, 0.010, 0.011];
const yMinorC = [0.0055, 0.0065, 0.0075, 0.0085, 0.0095, 0.0105];
const yTicksD = [0.0055, 0.00575, 0.006, 0.00625];
const yMinorD = [0.005625, 0.005875, 0.006125, 0.006375];
const yTicksE = [0.2, 0.3, 0.4, 0.5, 0.6];
const yMinorE = [0.25, 0.35, 0.45, 0.55];
const yTicksF = [0.5, 0.525, 0.55, 0.575];
const yMinorF = [0.4875, 0.5125, 0.5375, 0.5625];
const yTicksG = [0.1, 0.2, 0.3, 0.4, 0.5];
const yMinorG = [0.15, 0.25, 0.35, 0.45];
const yTicksH = [0.12, 0.13, 0.14, 0.15, 0.16];
const yMinorH = [0.115, 0.125, 0.135, 0.145, 0.155, 0.165];
const yTicksI = [1.025, 1.05, 1.075, 1.1, 1.125];
const yMinorI = [1.0125, 1.0375, 1.0625, 1.0875, 1.1125];

const xLabel = "Global Iteration";

// ---------------- PANELS ----------------
const FONT = "'Liberation Sans', Arial, Helvetica, sans-serif";
const panels = [
  {tag: "A", title: "Log Posterior", iters: iterationMixed, series: logPosterior, half: false, yDomain: [-160450, -140610], yTicks: yTicksA, yMinor: yMinorA, fmt: d => String(d), ml: 212},
  {tag: "B", title: "Log Posterior", iters: iterationMixed, series: logPosterior, half: true, yDomain: [-143548, -141440], yTicks: yTicksB, yMinor: yMinorB, fmt: d => String(d), ml: 212},
  {tag: "C", title: "Evolution Rate (subs/site/year)", iters: iterationMixed, series: evolutionRate, half: false, yDomain: [0.00517, 0.01117], yTicks: yTicksC, yMinor: yMinorC, fmt: d => d.toFixed(3), ml: 160},
  {tag: "D", title: "Evolution Rate (subs/site/year)", iters: iterationMixed, series: evolutionRate, half: true, yDomain: [0.005406, 0.006492], yTicks: yTicksD, yMinor: yMinorD, fmt: d => d.toFixed(5), ml: 201},
  {tag: "E", title: "Intrahost Doubling Time (days)", iters: iterationMixed, series: doublingTime, half: false, yDomain: [0.1491, 0.6042], yTicks: yTicksE, yMinor: yMinorE, fmt: d => d.toFixed(1), ml: 117},
  {tag: "F", title: "Intrahost Doubling Time (days)", iters: iterationMixed, series: doublingTime, half: true, yDomain: [0.48094, 0.57623], yTicks: yTicksF, yMinor: yMinorF, fmt: d => d.toFixed(3), ml: 159},
  {tag: "G", title: "Sampling Probability", iters: iterationMixed, series: samplingProb, half: false, yDomain: [0.0956, 0.5128], yTicks: yTicksG, yMinor: yMinorG, fmt: d => d.toFixed(1), ml: 117},
  {tag: "H", title: "Sampling Probability", iters: iterationMixed, series: samplingProb, half: true, yDomain: [0.1139, 0.1662], yTicks: yTicksH, yMinor: yMinorH, fmt: d => d.toFixed(2), ml: 139},
  {tag: "I", title: "Reproductive Number", iters: iterationFine, series: reproNumber, half: false, yDomain: [1.0009, 1.1318], yTicks: yTicksI, yMinor: yMinorI, fmt: d => d.toFixed(3), ml: 161},
  {tag: "J", title: "Reproductive Number", iters: iterationFine, series: reproNumber, half: true, yDomain: [1.0009, 1.1318], yTicks: yTicksI, yMinor: yMinorI, fmt: d => d.toFixed(3), ml: 159}
];

const grid = document.getElementById("grid");
const GRID = "#ebebeb";

for (const p of panels) {
  const n = Math.min(p.iters.length, p.series.length);
  const data = [];
  for (let i = 0; i < n; ++i) {
    if (p.half && p.iters[i] < 25000) continue;
    data.push({it: p.iters[i], v: p.series[i]});
  }
  const xDomain = p.half ? [23750, 51250] : [-2500, 52500];
  const xTicks = p.half ? xTicksHalf : xTicksFull;
  const xMinor = p.half ? xMinorHalf : xMinorFull;

  const cell = document.createElement("div");
  cell.className = "cell";
  const head = document.createElement("div");
  head.className = "head";
  const tag = document.createElement("span");
  tag.className = "tag";
  tag.textContent = p.tag;
  const title = document.createElement("span");
  title.className = "title";
  title.style.left = p.ml + "px";
  title.textContent = p.title;
  head.appendChild(tag);
  head.appendChild(title);
  cell.appendChild(head);

  const chart = Plot.plot({
    width: 1500,
    height: 640,
    marginTop: 17,
    marginBottom: 135,
    marginLeft: p.ml,
    marginRight: 25,
    style: {fontFamily: FONT, background: "#ffffff", overflow: "visible"},
    x: {domain: xDomain},
    y: {domain: p.yDomain},
    marks: [
      Plot.gridY(p.yMinor, {stroke: GRID, strokeOpacity: 1, strokeWidth: 2}),
      Plot.gridX(xMinor, {stroke: GRID, strokeOpacity: 1, strokeWidth: 2}),
      Plot.gridY(p.yTicks, {stroke: GRID, strokeOpacity: 1, strokeWidth: 4}),
      Plot.gridX(xTicks, {stroke: GRID, strokeOpacity: 1, strokeWidth: 4}),
      Plot.line(data, {x: "it", y: "v", stroke: "#000000", strokeWidth: 6, strokeLinejoin: "round", strokeLinecap: "round"}),
      Plot.axisX(xTicks, {tickSize: 0, tickPadding: 22, fontSize: 36, fill: "#4d4d4d", tickFormat: d => String(d), label: null}),
      Plot.axisX([], {tickSize: 0, fontSize: 45, fill: "#000000", label: xLabel, labelAnchor: "center", labelOffset: 102, labelArrow: "none"}),
      Plot.axisY(p.yTicks, {tickSize: 0, tickPadding: 23, fontSize: 36, fill: "#4d4d4d", tickFormat: p.fmt, label: null})
    ]
  });
  cell.appendChild(chart);
  grid.appendChild(cell);
}
</script>
</body>
</html>
